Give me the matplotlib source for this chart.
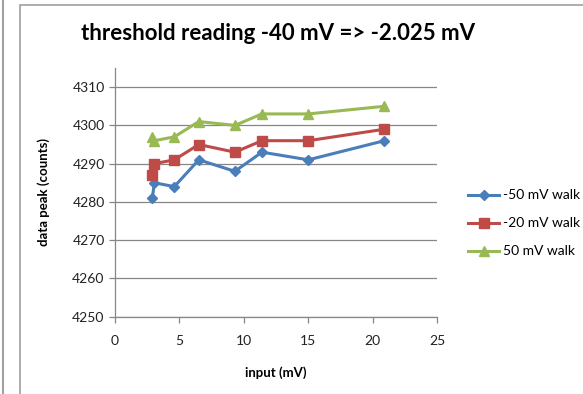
import matplotlib.pyplot as plt
from matplotlib.lines import Line2D
from matplotlib.patches import Rectangle

plt.rcParams['font.family'] = ['Lato', 'DejaVu Sans']

# values
x_input = [2.9, 3.05, 4.6, 6.5, 9.3, 11.4, 15.0, 20.9]
walk_m50 = [4281, 4285, 4284, 4291, 4288, 4293, 4291, 4296]
walk_m20 = [4287, 4290, 4291, 4295, 4293, 4296, 4296, 4299]
walk_p50 = [4297, 4296, 4297, 4301, 4300, 4303, 4303, 4305]
labels = ['-50 mV walk', '-20 mV walk', '50 mV walk']
x_ticks = [0, 5, 10, 15, 20, 25]
y_ticks = [4250, 4260, 4270, 4280, 4290, 4300, 4310]

colors = ['#4a7ebb', '#be4b48', '#98b954']
markers = ['D', 's', '^']
msizes = [5, 7.5, 7.5]

fig = plt.figure(figsize=(5.83, 3.94), dpi=100)
fig.patches.append(Rectangle((20 / 583, -0.1), 1.1, (394 - 5) / 394 + 0.1,
                             transform=fig.transFigure, fill=False,
                             edgecolor='#a0a0a0', linewidth=1.2))
fig.lines.append(Line2D([2.5 / 583, 2.5 / 583], [0, 1], transform=fig.transFigure,
                        color='#a0a0a0', linewidth=1.5))

ax = fig.add_axes([115 / 583, 1 - 316.7 / 394, (437.3 - 115) / 583, (316.7 - 68) / 394])

series = [walk_m50, walk_m20, walk_p50]
for i in range(3):
    ax.plot(x_input, series[i], color=colors[i], linewidth=2.2,
            marker=markers[i], markersize=msizes[i], label=labels[i], zorder=3)

ax.set_xlim(0, 25)
ax.set_ylim(4250, 4315)
ax.set_xticks(x_ticks)
ax.set_yticks(y_ticks)
ax.grid(axis='y', color='#878787', linewidth=0.9)
ax.set_axisbelow(True)
for s in ['top', 'right']:
    ax.spines[s].set_visible(False)
for s in ['left', 'bottom']:
    ax.spines[s].set_color('#878787')
    ax.spines[s].set_linewidth(0.9)
ax.tick_params(axis='both', colors='#878787', labelcolor='#222222',
               labelsize=10, length=4, width=0.9)
ax.tick_params(axis='x', pad=9)

ax.set_xlabel('input (mV)', fontsize=9.5, fontweight='bold', labelpad=14)
ax.set_ylabel('data peak (counts)', fontsize=9.5, fontweight='bold', labelpad=16)
fig.text(278 / 583, 1 - 34 / 394, 'threshold reading -40 mV => -2.025 mV',
         ha='center', va='center', fontsize=16, fontweight='bold')

ax.legend(loc='center left', bbox_to_anchor=(1.096, 0.375), frameon=False,
          fontsize=10, handlelength=2.2, handletextpad=0.3, labelspacing=1.15,
          borderaxespad=0, borderpad=0)

fig.savefig('out.png', dpi=100)
